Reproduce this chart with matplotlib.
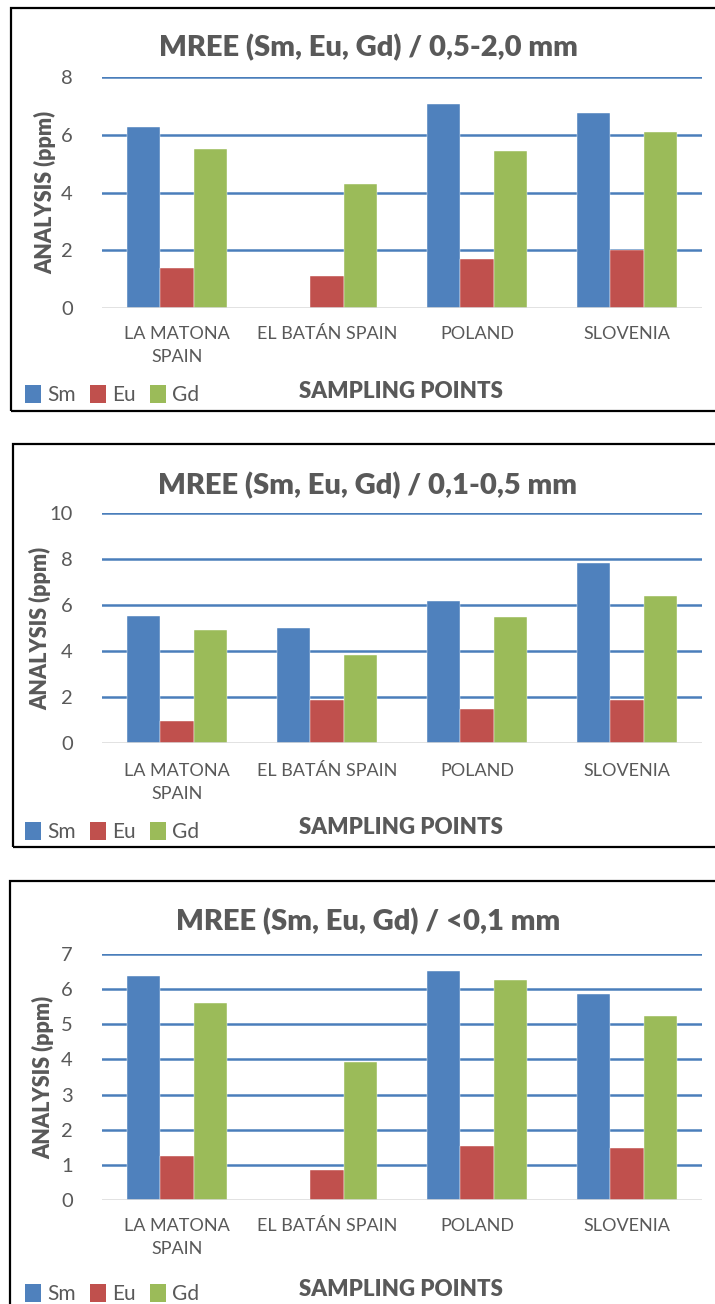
import matplotlib
matplotlib.use("Agg")
import matplotlib.pyplot as plt
from matplotlib.patches import Rectangle, Patch
import numpy as np

categories = ["LA MATONA\nSPAIN", "EL BATÁN SPAIN", "POLAND", "SLOVENIA"]
series_names = ["Sm", "Eu", "Gd"]

titles = ["MREE (Sm, Eu, Gd) / 0,5-2,0 mm",
          "MREE (Sm, Eu, Gd) / 0,1-0,5 mm",
          "MREE (Sm, Eu, Gd) / <0,1 mm"]

# panel 1: 0,5-2,0 mm
p1_sm = [6.27, 0.0, 7.08, 6.77]
p1_eu = [1.37, 1.11, 1.70, 2.01]
p1_gd = [5.52, 4.31, 5.44, 6.09]
# panel 2: 0,1-0,5 mm
p2_sm = [5.53, 4.98, 6.19, 7.81]
p2_eu = [0.97, 1.88, 1.48, 1.87]
p2_gd = [4.92, 3.81, 5.47, 6.40]
# panel 3: <0,1 mm
p3_sm = [6.37, 0.0, 6.51, 5.86]
p3_eu = [1.25, 0.85, 1.55, 1.47]
p3_gd = [5.60, 3.92, 6.26, 5.24]

y_max = [8, 10, 7]
y_step = [2, 2, 1]

colors = ["#4F81BD", "#C0504D", "#9BBB59"]
grid_color = "#4A7EBB"
text_color = "#595959"

W, H = 715, 1304
plt.rcParams['font.family'] = ['Lato', 'DejaVu Sans']
fig = plt.figure(figsize=(W / 100, H / 100), dpi=100)


def fx(px):
    return px / W


def fy(py):
    return 1 - py / H


panels = [
    dict(data=[p1_sm, p1_eu, p1_gd], box=(11, 8, 411), plot=(77, 308),
         title_y=48, cat_y=335, leg_y=395, xl_y=392, yl_x=45),
    dict(data=[p2_sm, p2_eu, p2_gd], box=(13, 444, 847), plot=(513, 743),
         title_y=486, cat_y=772, leg_y=832, xl_y=828, yl_x=40),
    dict(data=[p3_sm, p3_eu, p3_gd], box=(10, 881, 1330), plot=(954, 1200),
         title_y=922, cat_y=1227, leg_y=1294, xl_y=1290, yl_x=43),
]

x_left, x_right = 102, 702

for i, p in enumerate(panels):
    bl, bt, bb = p["box"]
    fig.add_artist(Rectangle((fx(bl), fy(bb)), fx(W + 20 - bl), fy(bt) - fy(bb),
                             transform=fig.transFigure, fill=False,
                             edgecolor="black", linewidth=1.6))
    top, bot = p["plot"]
    ax = fig.add_axes([fx(x_left), fy(bot), fx(x_right - x_left), fy(top) - fy(bot)])
    x = np.arange(len(categories))
    bw = 0.222
    for j, (vals, c) in enumerate(zip(p["data"], colors)):
        ax.bar(x + (j - 1) * bw, vals, width=bw, color=c, edgecolor="white",
               linewidth=0.3, zorder=3, label=series_names[j])
    ax.set_xlim(-0.5, len(categories) - 0.5)
    ax.set_ylim(0, y_max[i])
    ticks = np.arange(0, y_max[i] + 0.001, y_step[i])
    ax.set_yticks(ticks)
    ax.set_yticklabels([f"{int(t)}" for t in ticks], fontsize=14.5, color=text_color)
    for t in ticks[1:]:
        ax.axhline(t, color=grid_color, linewidth=1.8, zorder=1)
    ax.axhline(0, color="#D9D9D9", linewidth=1.8, zorder=4)
    for s in ax.spines.values():
        s.set_visible(False)
    ax.tick_params(axis="y", length=0, pad=21)
    ax.tick_params(axis="x", length=0)
    ax.set_xticks([])
    ax.patch.set_alpha(0)
    # category labels
    for k, cat in enumerate(categories):
        cx = x_left + (k + 0.5) * (x_right - x_left) / len(categories)
        fig.text(fx(cx), fy(p["cat_y"] - 9), cat, ha="center", va="top",
                 fontsize=13, color=text_color, linespacing=1.55)
    # title
    fig.text(fx(368), fy(p["title_y"]), titles[i], ha="center", va="center",
             fontsize=21, fontweight="heavy", color=text_color)
    # y label
    fig.text(fx(p["yl_x"]), fy((top + bot) / 2), "ANALYSIS (ppm)", rotation=90,
             ha="center", va="center", fontsize=15.5, fontweight="heavy",
             color=text_color)
    # x label
    fig.text(fx(401), fy(p["xl_y"]), "SAMPLING POINTS", ha="center", va="center",
             fontsize=16, fontweight="heavy", color=text_color)
    # legend
    handles = [Patch(facecolor=c, edgecolor="none") for c in colors]
    fig.legend(handles, series_names, loc="center left",
               bbox_to_anchor=(fx(25), fy(p["leg_y"])), ncol=3, frameon=False,
               fontsize=15, handlelength=0.75, handleheight=0.95,
               handletextpad=0.3, columnspacing=0.7, labelcolor=text_color,
               borderpad=0, borderaxespad=0)

fig.savefig("out.png", dpi=100)
